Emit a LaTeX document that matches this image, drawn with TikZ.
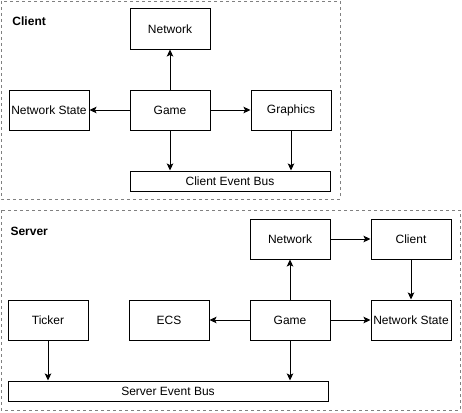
\documentclass[tikz,border=0pt]{standalone}
\usepackage{fontspec}
\setmainfont{Liberation Sans}
\usetikzlibrary{arrows.meta, positioning}

\begin{document}
\begin{tikzpicture}[->,>={Stealth[length=7pt,width=6.5pt,inset=1.5pt]},x=1pt,y=-1pt,node distance=40pt,
  line width=1pt,font=\fontsize{12}{14}\selectfont,
  block/.style={draw,rectangle,minimum width=80pt,minimum height=40pt,inner sep=0pt},
  bus/.style={draw,rectangle,minimum height=20pt,inner sep=0pt},
  group/.style={-,draw=gray,dash pattern=on 3pt off 3pt,line width=0.8pt},
  title/.style={font=\fontsize{12}{14}\selectfont\bfseries,anchor=west,inner sep=0pt}]
  \useasboundingbox (0,0) rectangle (462,412);
  % client side
  \draw[group] (1,1) rectangle (340,199);
  \node[title] (clientlabel) at (12,21) {Client};
  \node[block] (cgame) at (170,110) {Game};
  \node[block] (cnet) [above=of cgame] {Network};
  \node[block] (cstate) [left=of cgame] {Network State};
  \node[block] (cgfx) [right=of cgame] {Graphics};
  \node[bus,minimum width=200pt] (cbus) [below=of cgame.south west,anchor=north west] {Client Event Bus};
  \path
    (cgame) edge (cnet)
    (cgame) edge (cstate)
    (cgame) edge (cgfx)
    (cgame) edge (cgame |- cbus.north)
    (cgfx) edge (cgfx |- cbus.north);
  % server side
  \draw[group] (1,210) rectangle (460,410);
  \node[title] (serverlabel) at (10,231) {Server};
  \node[block] (sgame) at (290,320) {Game};
  \node[block] (secs) [left=of sgame] {ECS};
  \node[block] (ticker) [left=of secs] {Ticker};
  \node[block] (snet) [above=of sgame] {Network};
  \node[block] (sstate) [right=of sgame] {Network State};
  \node[block] (sclient) [above=of sstate] {Client};
  \node[bus,minimum width=320pt] (sbus) [below=of ticker.south west,anchor=north west] {Server Event Bus};
  \path
    (sgame) edge (snet)
    (snet) edge (sclient)
    (sclient) edge (sstate)
    (sgame) edge (secs)
    (sgame) edge (sstate)
    (ticker) edge (ticker |- sbus.north)
    (sgame) edge (sgame |- sbus.north);
\end{tikzpicture}
\end{document}
